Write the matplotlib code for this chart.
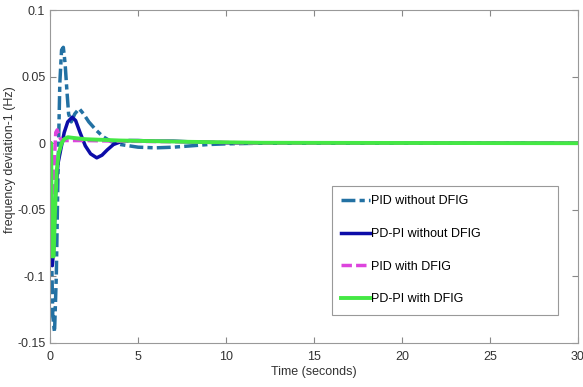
import matplotlib
matplotlib.use("Agg")
import matplotlib.pyplot as plt

# values
t_pid = [0, 0.05, 0.15, 0.25, 0.35, 0.45, 0.55, 0.65, 0.75, 0.85, 0.95, 1.05, 1.2, 1.4,
         1.65, 1.9, 2.2, 2.6, 3.0, 3.5, 4.0, 5.0, 6.0, 7.0, 8.0, 9.0, 10.0, 12.0, 30.0]
y_pid = [0, -0.06, -0.13, -0.142, -0.10, -0.02, 0.045, 0.07, 0.072, 0.06, 0.04, 0.022, 0.016, 0.022,
         0.026, 0.022, 0.016, 0.01, 0.005, 0.001, -0.001, -0.003, -0.0035, -0.003, -0.002, -0.001, -0.0005, 0, 0]

t_pdpi = [0, 0.05, 0.12, 0.2, 0.3, 0.45, 0.6, 0.8, 1.0, 1.25, 1.45, 1.7, 2.0, 2.3, 2.65,
          2.95, 3.25, 3.6, 4.0, 4.5, 5.0, 6.0, 7.0, 8.0, 10.0, 12.0, 30.0]
y_pdpi = [0, -0.05, -0.092, -0.08, -0.04, -0.015, -0.005, 0.008, 0.016, 0.0195, 0.017, 0.008, -0.002, -0.008, -0.011,
          -0.009, -0.005, -0.001, 0.001, 0.002, 0.002, 0.0015, 0.0015, 0.001, 0.0003, 0, 0]

t_pid_dfig = [0, 0.05, 0.1, 0.18, 0.25, 0.32, 0.4, 0.5, 0.6, 0.8, 2.0, 4.0, 8.0, 12.0, 30.0]
y_pid_dfig = [0, -0.06, -0.085, -0.05, -0.01, 0.008, 0.01, 0.006, 0.003, 0.002, 0.002, 0.0015, 0.001, 0, 0]

t_pdpi_dfig = [0, 0.06, 0.1, 0.2, 0.28, 0.38, 0.48, 0.65, 0.8, 1.0, 1.3, 2.0, 4.0, 8.0, 12.0, 30.0]
y_pdpi_dfig = [0, 0, -0.085, -0.085, -0.05, -0.02, -0.008, 0.0, 0.003, 0.0045, 0.004, 0.003, 0.002, 0.001, 0.0003, 0]

labels = ["PID without DFIG", "PD-PI without DFIG", "PID with DFIG", "PD-PI with DFIG"]

plt.rcParams["font.family"] = ["Liberation Sans", "DejaVu Sans"]

fig = plt.figure(figsize=(5.83, 3.87), dpi=100)
ax = fig.add_axes([0.086, 0.114, 0.905, 0.86])

ax.plot(t_pid, y_pid, color="#2371a3", lw=2.5, ls=(0, (4, 1.2, 1.5, 1.2)), label=labels[0])
ax.plot(t_pdpi, y_pdpi, color="#0c0ca8", lw=2.5, label=labels[1])
ax.plot(t_pid_dfig, y_pid_dfig, color="#dd44dd", lw=2.5, ls=(0, (3, 1.2)), label=labels[2])
ax.plot(t_pdpi_dfig, y_pdpi_dfig, color="#44e844", lw=2.8, label=labels[3])

ax.set_xlim(0, 30)
ax.set_ylim(-0.15, 0.1)
ax.set_xticks([0, 5, 10, 15, 20, 25, 30])
ax.set_yticks([-0.15, -0.1, -0.05, 0, 0.05, 0.1])
ax.set_yticklabels(["-0.15", "-0.1", "-0.05", "0", "0.05", "0.1"])
ax.tick_params(direction="in", top=True, right=True, labelsize=9, length=4,
               color="#888888", labelcolor="#333333")
ax.tick_params(axis="x", pad=6)
for s in ax.spines.values():
    s.set_color("#999999")
    s.set_linewidth(0.8)

ax.set_xlabel("Time (seconds)", fontsize=9, labelpad=2, color="#333333")
ax.set_ylabel("frequency deviation-1 (Hz)", fontsize=9, color="#333333")
ax.yaxis.set_label_coords(-0.064, 0.55)

leg = ax.legend(loc="upper left", bbox_to_anchor=(0.534, 0.471, 0.428, 0.0), mode="expand",
                fontsize=9, handlelength=2.3, handletextpad=0.1, labelspacing=1.65,
                borderpad=0.75, borderaxespad=0, fancybox=False, framealpha=1)
leg.get_frame().set_edgecolor("#999999")
leg.get_frame().set_linewidth(0.8)

fig.savefig("out.png", dpi=100)
